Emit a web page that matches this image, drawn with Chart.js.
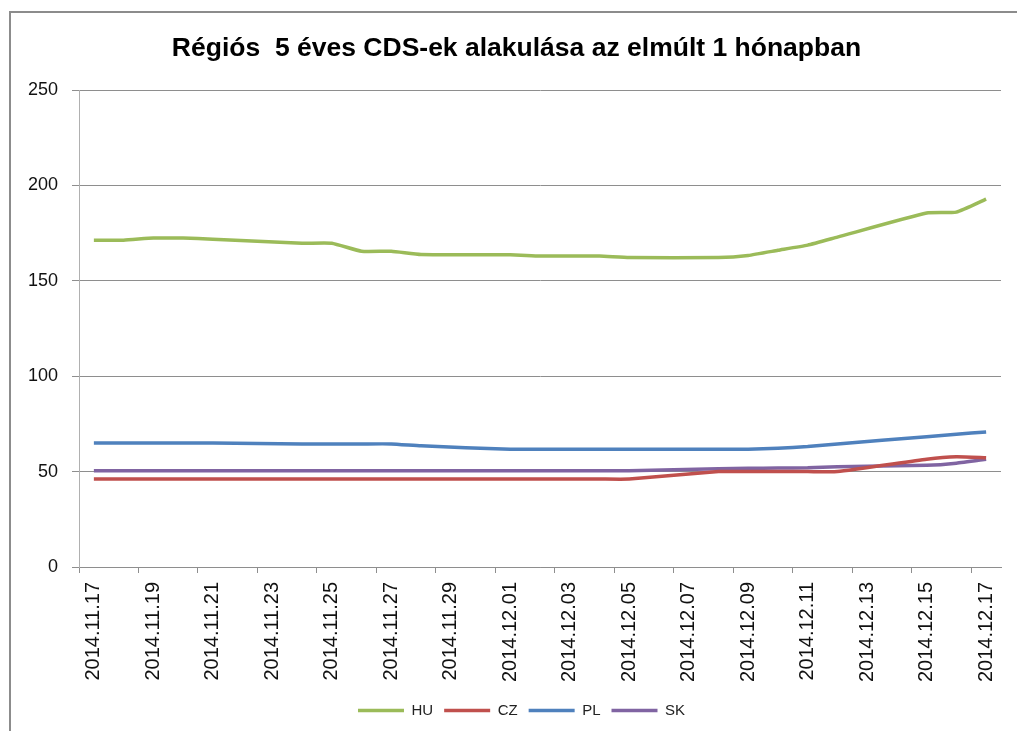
<!DOCTYPE html>
<html>
<head>
<meta charset="utf-8">
<script src="https://cdn.jsdelivr.net/npm/chart.js@4"></script>
<style>
  html, body { margin: 0; padding: 0; background: #fff; }
  #wrap { position: relative; width: 1017px; height: 731px; overflow: hidden; }
  #frame { position: absolute; left: 9px; top: 11px; width: 1100px; height: 800px; border-left: 2px solid #8c8c8c; border-top: 2px solid #8c8c8c; }
  canvas { position: absolute; left: 0; top: 0; }
</style>
</head>
<body>
<div id="wrap">
  <div id="frame"></div>
  <canvas id="cdsChart" width="1017" height="731"></canvas>
</div>
<script>
// Régiós 5 éves CDS-ek – napi adatok (hétvégén nincs jegyzés)
const days = ['2014.11.17', '2014.11.18', '2014.11.19', '2014.11.20', '2014.11.21', '2014.11.22', '2014.11.23',
    '2014.11.24', '2014.11.25', '2014.11.26', '2014.11.27', '2014.11.28', '2014.11.29', '2014.11.30',
    '2014.12.01', '2014.12.02', '2014.12.03', '2014.12.04', '2014.12.05', '2014.12.06', '2014.12.07',
    '2014.12.08', '2014.12.09', '2014.12.10', '2014.12.11', '2014.12.12', '2014.12.13', '2014.12.14',
    '2014.12.15', '2014.12.16', '2014.12.17'];

const huValues = [171.3, 171.3, 172.4, 172.4, 171.8, null, null, 169.7, 169.7, 165.5, 165.5, 163.8, null, null,
    163.6, 163, 163, 163, 162.2, null, null, 162.2, 163.3, 166, 168.7, 172.9, null, null, 185.5, 186, 192.8];
const czValues = [46.1, 46.1, 46.1, 46.1, 46.1, null, null, 46.1, 46.1, 46.1, 46.1, 46.1, null, null,
    46.1, 46.1, 46.1, 46.1, 46.1, null, null, 50, 50, 50, 50, 50, null, null, 56.5, 57.8, 57.3];
const plValues = [65, 65, 65, 65, 65, null, null, 64.5, 64.5, 64.5, 64.5, 63.5, null, null,
    61.7, 61.7, 61.7, 61.7, 61.7, null, null, 61.7, 61.7, 62.2, 63.1, 64.5, null, null, 68.3, 69.6, 70.8];
const skValues = [50.5, 50.5, 50.5, 50.5, 50.5, null, null, 50.5, 50.5, 50.5, 50.5, 50.5, null, null,
    50.5, 50.5, 50.5, 50.5, 50.5, null, null, 51.5, 51.7, 51.9, 52, 52.6, null, null, 53.3, 54.4, 56.5];

const yTicks = [0, 50, 100, 150, 200, 250];

const line = (label, data, color) => ({
    label, data, borderColor: color, backgroundColor: color, borderWidth: 3.5,
    pointRadius: 0, pointHoverRadius: 0, tension: 0.15, spanGaps: true, fill: false
});

// title and legend sit a little right of the canvas centre, as in the original
const shiftBoxes = {
    id: 'shiftBoxes',
    afterLayout(chart) {
        chart.titleBlock.left += 16; chart.titleBlock.right += 16;
        chart.legend.left += 21; chart.legend.right += 21;
    }
};

new Chart(document.getElementById('cdsChart'), {
    type: 'line',
    data: {
        labels: days,
        datasets: [
            line('HU', huValues, '#9bbb59'),
            line('CZ', czValues, '#c0504d'),
            line('PL', plValues, '#4f81bd'),
            line('SK', skValues, '#8064a2')
        ]
    },
    plugins: [shiftBoxes],
    options: {
        responsive: false,
        animation: false,
        layout: { padding: { left: 0, right: 16, top: 0, bottom: 3 } },
        plugins: {
            title: {
                display: true,
                text: 'Régiós  5 éves CDS-ek alakulása az elmúlt 1 hónapban',
                color: '#000',
                font: { family: 'Liberation Sans', size: 26.5, weight: 'bold' },
                padding: { top: 32.5, bottom: 25.7 }
            },
            legend: {
                position: 'bottom',
                labels: {
                    usePointStyle: true, pointStyle: 'line', pointStyleWidth: 46,
                    color: '#222', padding: 11,
                    font: { family: 'Liberation Sans', size: 15 }
                }
            },
            tooltip: { enabled: false }
        },
        scales: {
            x: {
                offset: true,
                afterFit: s => { s.height = 125; s.paddingLeft = 0; s.paddingRight = 0; },
                grid: {
                    drawOnChartArea: false, drawTicks: true, tickLength: 6, offset: true,
                    color: ctx => ctx.index % 2 === 0 ? '#8e8e8e' : 'rgba(0,0,0,0)'
                },
                border: { color: '#8e8e8e', width: 1 },
                ticks: {
                    autoSkip: false, minRotation: 90, maxRotation: 90, padding: 9,
                    color: '#111', font: { family: 'Liberation Sans', size: 20 },
                    callback: function (val, i) { return i % 2 === 0 ? this.getLabelForValue(val) : ''; }
                }
            },
            y: {
                min: 0, max: 250,
                afterFit: s => { s.width = 79; },
                afterBuildTicks: s => { s.ticks = yTicks.map(v => ({ value: v })); },
                grid: { color: '#8e8e8e', tickLength: 7, drawTicks: true },
                border: { color: '#b0b0b0', width: 1 },
                ticks: {
                    padding: 14, color: '#111',
                    font: { family: 'Liberation Sans', size: 18 }
                }
            }
        }
    }
});
</script>
</body>
</html>
